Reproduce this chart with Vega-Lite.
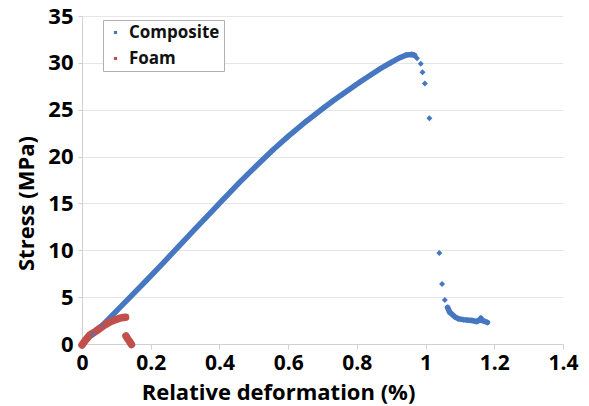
{
  "$schema": "https://vega.github.io/schema/vega-lite/v6.json",
  "autosize": {"type": "none"},
  "width": 481,
  "height": 328,
  "padding": {"left": 82, "top": 16, "right": 26, "bottom": 62},
  "background": "white",
  "config": {
    "view": {"stroke": null},
    "font": "Open Sans",
    "axis": {
      "labelFont": "Open Sans", "labelFontWeight": "bold", "labelFontSize": 22, "labelColor": "#000",
      "titleFont": "Open Sans", "titleFontWeight": "bold", "titleFontSize": 22, "titleColor": "#000",
      "domainColor": "#d0d0d0", "tickColor": "#d0d0d0", "gridColor": "#e6e6e6"
    }
  },
  "data": {"values": [
    {"series": "Composite", "seg": "c1", "x": 0.03, "y": 1.0},
    {"series": "Composite", "seg": "c1", "x": 0.06, "y": 2.0},
    {"series": "Composite", "seg": "c1", "x": 0.1, "y": 3.5},
    {"series": "Composite", "seg": "c1", "x": 0.14, "y": 5.0},
    {"series": "Composite", "seg": "c1", "x": 0.188, "y": 6.8},
    {"series": "Composite", "seg": "c1", "x": 0.24, "y": 8.8},
    {"series": "Composite", "seg": "c1", "x": 0.285, "y": 10.55},
    {"series": "Composite", "seg": "c1", "x": 0.33, "y": 12.3},
    {"series": "Composite", "seg": "c1", "x": 0.36, "y": 13.45},
    {"series": "Composite", "seg": "c1", "x": 0.4, "y": 15.0},
    {"series": "Composite", "seg": "c1", "x": 0.46, "y": 17.3},
    {"series": "Composite", "seg": "c1", "x": 0.51, "y": 19.1},
    {"series": "Composite", "seg": "c1", "x": 0.557, "y": 20.75},
    {"series": "Composite", "seg": "c1", "x": 0.6, "y": 22.15},
    {"series": "Composite", "seg": "c1", "x": 0.654, "y": 23.8},
    {"series": "Composite", "seg": "c1", "x": 0.7, "y": 25.1},
    {"series": "Composite", "seg": "c1", "x": 0.731, "y": 25.95},
    {"series": "Composite", "seg": "c1", "x": 0.76, "y": 26.7},
    {"series": "Composite", "seg": "c1", "x": 0.809, "y": 27.95},
    {"series": "Composite", "seg": "c1", "x": 0.84, "y": 28.7},
    {"series": "Composite", "seg": "c1", "x": 0.867, "y": 29.35},
    {"series": "Composite", "seg": "c1", "x": 0.9, "y": 30.05},
    {"series": "Composite", "seg": "c1", "x": 0.925, "y": 30.55},
    {"series": "Composite", "seg": "c1", "x": 0.945, "y": 30.85},
    {"series": "Composite", "seg": "c1", "x": 0.96, "y": 30.9},
    {"series": "Composite", "seg": "c1", "x": 0.968, "y": 30.8},
    {"series": "Composite", "seg": "", "x": 0.975, "y": 30.5},
    {"series": "Composite", "seg": "", "x": 0.986, "y": 29.9},
    {"series": "Composite", "seg": "", "x": 0.991, "y": 29.0},
    {"series": "Composite", "seg": "", "x": 0.998, "y": 27.8},
    {"series": "Composite", "seg": "", "x": 1.011, "y": 24.1},
    {"series": "Composite", "seg": "", "x": 1.040, "y": 9.7},
    {"series": "Composite", "seg": "", "x": 1.048, "y": 6.4},
    {"series": "Composite", "seg": "", "x": 1.056, "y": 4.7},
    {"series": "Composite", "seg": "c2", "x": 1.064, "y": 3.9},
    {"series": "Composite", "seg": "c2", "x": 1.07, "y": 3.4},
    {"series": "Composite", "seg": "c2", "x": 1.076, "y": 3.2},
    {"series": "Composite", "seg": "c2", "x": 1.085, "y": 2.9},
    {"series": "Composite", "seg": "c2", "x": 1.095, "y": 2.7},
    {"series": "Composite", "seg": "c2", "x": 1.11, "y": 2.6},
    {"series": "Composite", "seg": "c2", "x": 1.12, "y": 2.55},
    {"series": "Composite", "seg": "c2", "x": 1.135, "y": 2.5},
    {"series": "Composite", "seg": "c2", "x": 1.149, "y": 2.4},
    {"series": "Composite", "seg": "c2", "x": 1.155, "y": 2.5},
    {"series": "Composite", "seg": "c2", "x": 1.161, "y": 2.75},
    {"series": "Composite", "seg": "c2", "x": 1.165, "y": 2.5},
    {"series": "Composite", "seg": "c2", "x": 1.17, "y": 2.45},
    {"series": "Composite", "seg": "c2", "x": 1.18, "y": 2.3},
    {"series": "Foam", "seg": "f1", "x": 0.0, "y": -0.1},
    {"series": "Foam", "seg": "f1", "x": 0.01, "y": 0.4},
    {"series": "Foam", "seg": "f1", "x": 0.023, "y": 0.96},
    {"series": "Foam", "seg": "f1", "x": 0.04, "y": 1.35},
    {"series": "Foam", "seg": "f1", "x": 0.052, "y": 1.67},
    {"series": "Foam", "seg": "f1", "x": 0.065, "y": 2.0},
    {"series": "Foam", "seg": "f1", "x": 0.081, "y": 2.35},
    {"series": "Foam", "seg": "f1", "x": 0.095, "y": 2.55},
    {"series": "Foam", "seg": "f1", "x": 0.106, "y": 2.7},
    {"series": "Foam", "seg": "f1", "x": 0.115, "y": 2.8},
    {"series": "Foam", "seg": "f1", "x": 0.127, "y": 2.85},
    {"series": "Foam", "seg": "f2", "x": 0.128, "y": 0.85},
    {"series": "Foam", "seg": "f2", "x": 0.133, "y": 0.55},
    {"series": "Foam", "seg": "f2", "x": 0.138, "y": 0.3},
    {"series": "Foam", "seg": "f2", "x": 0.144, "y": -0.05}
  ]},
  "encoding": {
    "x": {"field": "x", "type": "quantitative",
      "scale": {"domain": [0, 1.4], "nice": false},
      "axis": {"title": "Relative deformation (%)", "labelFontSize": 21, "values": [0, 0.2, 0.4, 0.6, 0.8, 1, 1.2, 1.4], "format": "~g",
        "grid": false, "tickSize": 5, "labelPadding": 20, "labelBaseline": "alphabetic",
        "titleX": 196, "titleY": 55, "titleBaseline": "alphabetic", "titleAnchor": "middle", "labelFlush": false}},
    "y": {"field": "y", "type": "quantitative",
      "scale": {"domain": [0, 35], "nice": false},
      "axis": {"title": "Stress (MPa)", "values": [0, 5, 10, 15, 20, 25, 30, 35],
        "grid": true, "tickSize": 4, "labelPadding": 5, "titlePadding": 9, "titleY": 187, "titleAnchor": "middle", "labelFlush": false}}
  },
  "layer": [
    {
      "transform": [{"filter": "datum.seg == 'c1' || datum.seg == 'c2'"}],
      "mark": {"type": "line", "stroke": "#4677c0", "strokeWidth": 5.5, "strokeCap": "round", "strokeJoin": "round", "clip": false},
      "encoding": {"detail": {"field": "seg"}}
    },
    {
      "transform": [{"filter": "datum.seg == 'f1' || datum.seg == 'f2'"}],
      "mark": {"type": "line", "stroke": "#c0504d", "strokeWidth": 7.5, "strokeCap": "round", "strokeJoin": "round", "clip": false},
      "encoding": {"detail": {"field": "seg"}}
    },
    {
      "mark": {"type": "point", "filled": true, "shape": "diamond", "size": 36, "opacity": 1, "clip": false},
      "encoding": {
        "color": {"field": "series", "type": "nominal",
          "scale": {"domain": ["Composite", "Foam"], "range": ["#4677c0", "#c0504d"]},
          "legend": {"title": null, "orient": "none", "legendX": 21, "legendY": 4,
            "symbolType": "square", "symbolSize": 10, "labelFont": "Open Sans", "labelFontWeight": "bold", "labelFontSize": 17, "labelColor": "#111",
            "labelOffset": 5, "rowPadding": 8, "padding": 4, "strokeColor": "#b0b0b0", "fillColor": "white"}}
      }
    }
  ]
}
